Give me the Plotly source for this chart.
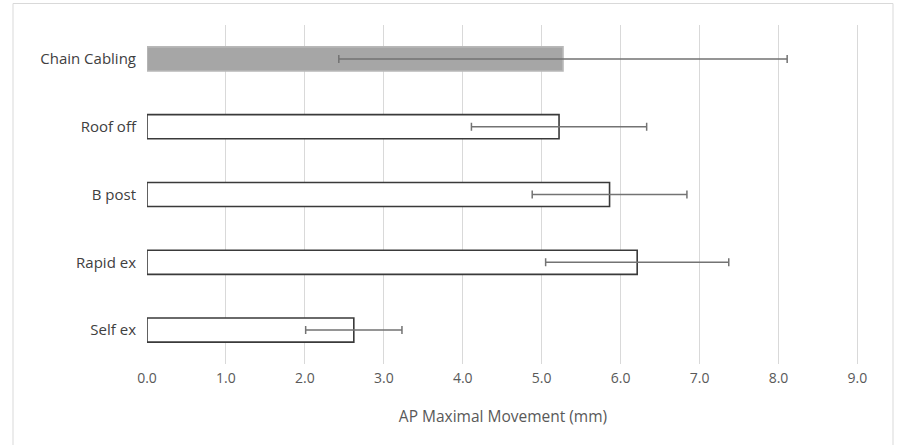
import plotly.graph_objects as go

categories = ["Chain Cabling", "Roof off", "B post", "Rapid ex", "Self ex"]
values = [5.27, 5.22, 5.86, 6.21, 2.62]
errors = [2.84, 1.11, 0.98, 1.16, 0.61]
fill_colors = ["#a6a6a6", "#ffffff", "#ffffff", "#ffffff", "#ffffff"]
line_colors = ["#b8b8b8", "#3a3a3a", "#3a3a3a", "#3a3a3a", "#3a3a3a"]
x_title = "AP Maximal Movement (mm)"

fig = go.Figure()
fig.add_trace(go.Bar(
    x=values, y=categories, orientation="h",
    marker=dict(color=fill_colors, line=dict(color=line_colors, width=1.6)),
    error_x=dict(type="data", array=errors, visible=True, color="#737373",
                 thickness=1.5, width=4),
    showlegend=False,
))

W, H = 899, 445
L, R, T, B = 147, 40, 25, 81
pw, ph = W - L - R, H - T - B

def px(x):
    return (x - L) / pw

def py(y):
    return (H - B - y) / ph

fig.add_shape(type="rect", xref="paper", yref="paper",
              x0=px(13), x1=px(893), y0=py(470), y1=py(3.5),
              line=dict(color="#d9d9d9", width=1), fillcolor="rgba(0,0,0,0)",
              layer="below")

fig.update_layout(
    width=W, height=H,
    margin=dict(l=L, r=R, t=T, b=B),
    paper_bgcolor="white", plot_bgcolor="white",
    bargap=0.645,
    font=dict(family="Open Sans, Liberation Sans, sans-serif", color="#595959", size=13),
    xaxis=dict(range=[0, 9.02], dtick=1, tick0=0, tickformat=".1f",
               showgrid=True, gridcolor="#d9d9d9", gridwidth=1,
               zeroline=False, showline=False, ticks="",
               ticklabelstandoff=4,
               tickfont=dict(size=14, color="#595959"),
               title=dict(text=x_title, font=dict(size=15.5, color="#595959"), standoff=25)),
    yaxis=dict(categoryorder="array", categoryarray=categories, autorange="reversed",
               showgrid=False, zeroline=False, showline=False, ticks="",
               ticklabelstandoff=10,
               tickfont=dict(size=15, color="#404040")),
)

fig.write_html("out.html", config={"displayModeBar": False},
               post_script="document.body.style.margin='0';")
